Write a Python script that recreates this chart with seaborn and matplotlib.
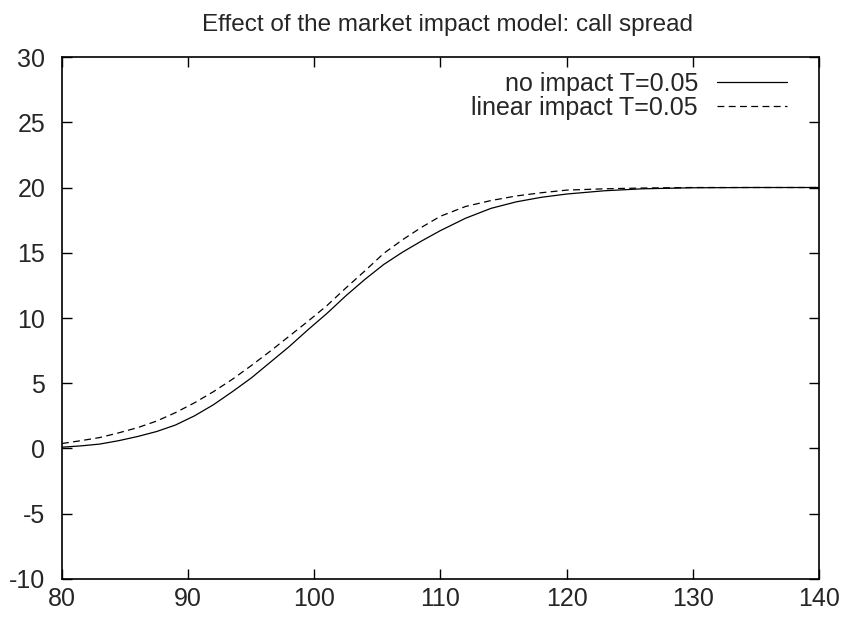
import matplotlib
matplotlib.use("Agg")
import matplotlib.pyplot as plt
import seaborn as sns
import pandas as pd

# values
spot = [80, 81.5, 83, 84.5, 86, 87.5, 89, 90.5, 92, 93.5, 95, 96.5, 98, 99.5,
        101, 102.5, 104, 105.5, 107, 108.5, 110, 112, 114, 116, 118, 120,
        123, 126, 130, 135, 140]
no_impact = [0.1, 0.2, 0.34, 0.6, 0.92, 1.3, 1.8, 2.5, 3.35, 4.35, 5.4, 6.6,
             7.8, 9.1, 10.35, 11.7, 12.95, 14.1, 15.05, 15.9, 16.7, 17.65,
             18.4, 18.9, 19.25, 19.5, 19.75, 19.9, 19.98, 20.0, 20.0]
linear_impact = [0.38, 0.6, 0.84, 1.2, 1.6, 2.1, 2.75, 3.5, 4.35, 5.3, 6.35,
                 7.45, 8.6, 9.75, 10.95, 12.3, 13.6, 14.95, 16.0, 16.95, 17.8,
                 18.55, 19.0, 19.35, 19.6, 19.8, 19.9, 19.96, 20.0, 20.0, 20.0]
labels = ["no impact T=0.05", "linear impact T=0.05"]

sns.set_style("ticks")
plt.rcParams["font.family"] = ["Liberation Sans", "DejaVu Sans"]
plt.rcParams["axes.unicode_minus"] = False

fig = plt.figure(figsize=(8.43, 6.17), dpi=100)
ax = fig.add_axes([0.0735, 0.0616, 0.898, 0.846])

sns.lineplot(x=spot, y=no_impact, ax=ax, color="black", linewidth=0.9,
             label=labels[0])
sns.lineplot(x=spot, y=linear_impact, ax=ax, color="black", linewidth=0.9,
             linestyle=(0, (5.5, 3.5)), label=labels[1])

ax.set_xlim(80, 140)
ax.set_ylim(-10, 30)
ax.set_xticks(range(80, 141, 10))
ax.set_yticks(range(-10, 31, 5))
ax.tick_params(direction="in", top=True, right=True, length=7, width=1,
               labelsize=18, color="black")
ax.tick_params(axis="x", pad=6)
ax.tick_params(axis="y", pad=12)
for s in ax.spines.values():
    s.set_visible(True)
    s.set_linewidth(1.2)
    s.set_color("black")

ax.set_title("Effect of the market impact model: call spread", fontsize=17.5,
             pad=19, x=0.509)
ax.legend(loc="upper right", bbox_to_anchor=(0.971, 0.991), borderaxespad=0,
          frameon=False, markerfirst=False, fontsize=18, handlelength=2.8,
          handletextpad=0.76, labelspacing=0.0)

fig.savefig("out.png", dpi=100)
